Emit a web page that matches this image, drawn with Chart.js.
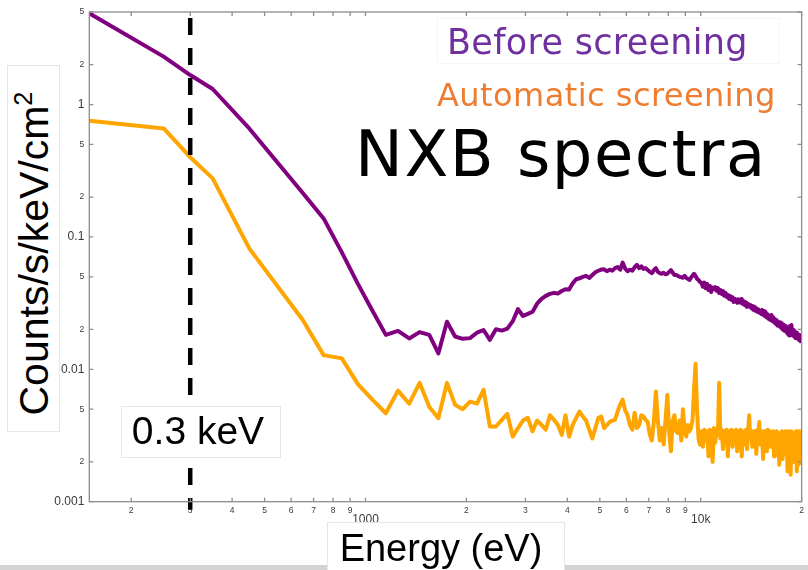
<!DOCTYPE html>
<html>
<head>
<meta charset="utf-8">
<title>NXB spectra</title>
<script src="https://cdn.jsdelivr.net/npm/chart.js@4.4.1/dist/chart.umd.min.js"></script>
<style>
  html, body { margin: 0; padding: 0; background: #fff; }
  #wrap { position: relative; width: 808px; height: 570px; overflow: hidden; }
  #nxbChart { position: absolute; left: 0; top: 0; }
  .box { position: absolute; background: #fff; border: 1px solid #e6e6e6; box-sizing: border-box; }
  .txt { position: absolute; white-space: nowrap; line-height: 1; }
  .sans { font-family: "Liberation Sans", Arial, sans-serif; }
  .wide { font-family: "DejaVu Sans", sans-serif; }
</style>
</head>
<body>
<div id="wrap">
  <canvas id="nxbChart" width="808" height="570"></canvas>

  <!-- bottom grey strip of the slide -->
  <div style="position:absolute;left:0;top:565px;width:808px;height:5px;background:#d4d4d4;"></div>

  <!-- legend style annotations -->
  <div class="box" style="left:437px;top:18px;width:343px;height:46px;border-color:#f5f5f5;"></div>
  <div class="txt wide" style="left:447px;top:25px;font-size:35px;letter-spacing:0.3px;color:#7030a0;">Before screening</div>
  <div class="txt wide" style="left:437px;top:79px;font-size:32px;letter-spacing:0.45px;color:#ed7d31;">Automatic screening</div>
  <div class="txt wide" style="left:355px;top:122px;font-size:64px;letter-spacing:1.5px;color:#000;">NXB spectra</div>

  <!-- y axis title -->
  <div class="box" style="left:7px;top:65px;width:53px;height:367px;"></div>
  <div class="txt sans" style="left:-136px;top:233px;width:340px;height:41px;font-size:41px;text-align:center;transform:rotate(-90deg);">Counts/s/keV/cm<sup style="font-size:0.62em;vertical-align:0.62em;line-height:0;">2</sup></div>

  <!-- 0.3 keV marker label -->
  <div class="box" style="left:121px;top:406px;width:160px;height:52px;"></div>
  <div class="txt sans" style="left:108px;top:411px;width:180px;font-size:39px;text-align:center;">0.3 keV</div>

  <!-- x axis title -->
  <div class="box" style="left:327px;top:522px;width:238px;height:60px;"></div>
  <div class="txt sans" style="left:321px;top:529px;width:240px;font-size:38px;text-align:center;">Energy (eV)</div>
</div>

<script>
// energy bins (eV)
const energies = [
    150, 250, 300, 350, 450, 650, 750, 850, 950,
    1050, 1150, 1250, 1350, 1450, 1550, 1650, 1750, 1850, 1950,
    2050, 2150, 2250, 2350, 2450, 2550, 2650, 2750, 2850, 2950,
    3050, 3150, 3250, 3350, 3450, 3550, 3650, 3750, 3850, 3950,
    4050, 4150, 4250, 4350, 4450, 4550, 4650, 4750, 4850, 4950,
    5050, 5150, 5250, 5350, 5450, 5550, 5650, 5750, 5850, 5950,
    6050, 6150, 6250, 6350, 6450, 6550, 6650, 6750, 6850, 6950,
    7050, 7150, 7250, 7350, 7450, 7550, 7650, 7750, 7850, 7950,
    8050, 8150, 8250, 8350, 8450, 8550, 8650, 8750, 8850, 8950,
    9050, 9150, 9250, 9350, 9450, 9550, 9650, 9750, 9850, 9950,
    10050, 10150, 10250, 10350, 10450, 10550, 10650, 10750, 10850, 10950,
    11050, 11150, 11250, 11350, 11450, 11550, 11650, 11750, 11850, 11950,
    12050, 12150, 12250, 12350, 12450, 12550, 12650, 12750, 12850, 12950,
    13050, 13150, 13250, 13350, 13450, 13550, 13650, 13750, 13850, 13950,
    14050, 14150, 14250, 14350, 14450, 14550, 14650, 14750, 14850, 14950,
    15050, 15150, 15250, 15350, 15450, 15550, 15650, 15750, 15850, 15950,
    16050, 16150, 16250, 16350, 16450, 16550, 16650, 16750, 16850, 16950,
    17050, 17150, 17250, 17350, 17450, 17550, 17650, 17750, 17850, 17950,
    18050, 18150, 18250, 18350, 18450, 18550, 18650, 18750, 18850, 18950,
    19050, 19150, 19250, 19350, 19450, 19550, 19650, 19750, 19850, 19950
];

// counts/s/keV/cm2, before screening (purple)
const beforeScreening = [
    4.89, 2.30, 1.67, 1.31, 0.66, 0.215, 0.138, 0.0765, 0.044,
    0.0276, 0.0182, 0.0195, 0.0171, 0.0191, 0.0182, 0.0132, 0.0229, 0.0177, 0.0170,
    0.0172, 0.0189, 0.0198, 0.0167, 0.0201, 0.0196, 0.0203, 0.0231, 0.0285, 0.0253,
    0.0262, 0.0272, 0.0313, 0.0340, 0.0359, 0.0371, 0.0378, 0.0374, 0.0390, 0.0403,
    0.0401, 0.0446, 0.0479, 0.0487, 0.0499, 0.0508, 0.0490, 0.0516, 0.0541, 0.0555,
    0.0567, 0.0569, 0.0551, 0.0565, 0.0556, 0.0581, 0.0593, 0.0565, 0.0640, 0.0577,
    0.0551, 0.0565, 0.0556, 0.0590, 0.0614, 0.0581, 0.0599, 0.0573, 0.0581, 0.0562,
    0.0545, 0.0533, 0.0562, 0.0581, 0.0545, 0.0533, 0.0527, 0.0536, 0.0522, 0.0527,
    0.0545, 0.0562, 0.0536, 0.0516, 0.0516, 0.0508, 0.0499, 0.0497, 0.0491, 0.0508,
    0.0491, 0.0482, 0.0473, 0.0491, 0.0508, 0.0527, 0.0508, 0.0482, 0.0473, 0.0457,
    0.0449, 0.0420, 0.0452, 0.0410, 0.0441, 0.0397, 0.0426, 0.0384, 0.0415, 0.0405,
    0.0418, 0.0392, 0.0411, 0.0378, 0.0397, 0.0371, 0.0390, 0.0360, 0.0378, 0.0352,
    0.0365, 0.0340, 0.0358, 0.0334, 0.0350, 0.0323, 0.0340, 0.0330, 0.0318, 0.0338,
    0.0334, 0.0318, 0.0340, 0.0312, 0.0326, 0.0305, 0.0320, 0.0296, 0.0312, 0.0298,
    0.0306, 0.0290, 0.0301, 0.0282, 0.0298, 0.0277, 0.0290, 0.0272, 0.0284, 0.0268,
    0.0276, 0.0262, 0.0281, 0.0258, 0.0275, 0.0252, 0.0268, 0.0246, 0.0260, 0.0240,
    0.0252, 0.0236, 0.0257, 0.0232, 0.0248, 0.0226, 0.0240, 0.0220, 0.0235, 0.0214,
    0.0228, 0.0212, 0.0226, 0.0206, 0.0222, 0.0200, 0.0218, 0.0196, 0.0212, 0.0193,
    0.0205, 0.0186, 0.0200, 0.0180, 0.0212, 0.0188, 0.0216, 0.0182, 0.0198, 0.0178,
    0.0194, 0.0172, 0.0190, 0.0176, 0.0186, 0.0168, 0.0182, 0.0165, 0.0170, 0.0158
];

// counts/s/keV/cm2, automatic screening (orange)
const automaticScreening = [
    0.755, 0.66, 0.40, 0.277, 0.082, 0.0236, 0.0128, 0.0121, 0.0077,
    0.00587, 0.00466, 0.0069, 0.0055, 0.0079, 0.0052, 0.00427, 0.0079, 0.0054, 0.0050,
    0.0057, 0.0055, 0.0070, 0.0037, 0.0037, 0.00415, 0.0046, 0.0031, 0.0036, 0.0041,
    0.0043, 0.0034, 0.0041, 0.0038, 0.0035, 0.0045, 0.00415, 0.0038, 0.0032, 0.0045,
    0.0031, 0.0038, 0.0043, 0.0048, 0.0044, 0.0041, 0.0035, 0.0030, 0.0036, 0.0043,
    0.0044, 0.0036, 0.0038, 0.0040, 0.0041, 0.00415, 0.0048, 0.0054, 0.0059, 0.0049,
    0.0045, 0.0038, 0.0035, 0.0047, 0.0036, 0.0038, 0.0045, 0.0044, 0.00415, 0.0040,
    0.0032, 0.0029, 0.0041, 0.0068, 0.0041, 0.0029, 0.0036, 0.0027, 0.0041, 0.0064,
    0.0034, 0.0024, 0.0041, 0.0045, 0.0034, 0.0033, 0.0041, 0.0029, 0.0050, 0.0035,
    0.0031, 0.0038, 0.0034, 0.0036, 0.0041, 0.0070, 0.0110, 0.0049, 0.0030, 0.0027,
    0.0034, 0.0026, 0.0035, 0.0029, 0.0034, 0.0022, 0.0035, 0.0030, 0.0020, 0.0036,
    0.0028, 0.0034, 0.0032, 0.0079, 0.0030, 0.0035, 0.0025, 0.0034, 0.0028, 0.0035,
    0.0022, 0.0034, 0.0031, 0.0035, 0.0026, 0.0034, 0.0030, 0.0035, 0.0024, 0.0034,
    0.0029, 0.0035, 0.0022, 0.0033, 0.0034, 0.0027, 0.0035, 0.0025, 0.0034, 0.0045,
    0.0030, 0.0034, 0.0026, 0.0034, 0.0031, 0.0034, 0.0023, 0.0035, 0.0029, 0.0040,
    0.0027, 0.0034, 0.0032, 0.0021, 0.0034, 0.0030, 0.0034, 0.0024, 0.0035, 0.0028,
    0.0034, 0.0026, 0.0033, 0.0031, 0.0034, 0.0022, 0.0033, 0.0029, 0.0034, 0.0025,
    0.0033, 0.0019, 0.0032, 0.0028, 0.0034, 0.0021, 0.0033, 0.0030, 0.0034, 0.0023,
    0.0033, 0.0017, 0.0034, 0.0026, 0.0033, 0.0016, 0.0034, 0.0028, 0.0032, 0.0020,
    0.0033, 0.0024, 0.0034, 0.0017, 0.0030, 0.0019, 0.0034, 0.0021, 0.0026, 0.0019
];

// 0.3 keV marker (eV), drawn from top to just under the axis
const markerEnergy = [300, 300];
const markerCounts = [4.5, 0.00087];

// axis ticks and their labels
const xTicks = [200, 300, 400, 500, 600, 700, 800, 900, 1000,
    2000, 3000, 4000, 5000, 6000, 7000, 8000, 9000, 10000, 20000];
const xTickLabels = ['2', '3', '4', '5', '6', '7', '8', '9', '1000',
    '2', '3', '4', '5', '6', '7', '8', '9', '10k', '2'];
const yTicks = [0.001, 0.002, 0.005, 0.01, 0.02, 0.05, 0.1, 0.2, 0.5, 1, 2, 5];
const yTickLabels = ['0.001', '2', '5', '0.01', '2', '5', '0.1', '2', '5', '1', '2', '5'];

const xMajor = [1000, 10000];
const yMajor = [0.001, 0.01, 0.1, 1];

// frame around the plot with tick marks pointing inwards
const frameTicks = {
    id: 'frameTicks',
    afterDatasetsDraw(chart) {
        const { ctx, chartArea: a, scales } = chart;
        ctx.save();
        ctx.strokeStyle = '#8c8c8c';
        ctx.lineWidth = 1.3;
        ctx.strokeRect(a.left, a.top, a.right - a.left, a.bottom - a.top);
        ctx.beginPath();
        xTicks.forEach((v) => {
            const px = scales.x.getPixelForValue(v);
            ctx.moveTo(px, a.bottom); ctx.lineTo(px, a.bottom - 4);
            ctx.moveTo(px, a.top); ctx.lineTo(px, a.top + 4);
        });
        yTicks.forEach((v) => {
            const py = scales.y.getPixelForValue(v);
            ctx.moveTo(a.left, py); ctx.lineTo(a.left + 4, py);
            ctx.moveTo(a.right, py); ctx.lineTo(a.right - 4, py);
        });
        ctx.stroke();
        ctx.restore();
    }
};

const toPoints = (xs, ys) => xs.map((x, i) => ({ x: x, y: ys[i] }));

const ctx = document.getElementById('nxbChart').getContext('2d');
new Chart(ctx, {
    type: 'line',
    data: {
        datasets: [
            {
                label: '0.3 keV',
                data: toPoints(markerEnergy, markerCounts),
                borderColor: '#000',
                borderWidth: 4.5,
                borderDash: [17, 13],
                pointRadius: 0,
                clip: false
            },
            {
                label: 'Before screening',
                data: toPoints(energies, beforeScreening),
                borderColor: '#800080',
                borderWidth: 4,
                pointRadius: 0,
                borderJoinStyle: 'round'
            },
            {
                label: 'Automatic screening',
                data: toPoints(energies, automaticScreening),
                borderColor: '#ffa500',
                borderWidth: 4,
                pointRadius: 0,
                borderJoinStyle: 'round'
            }
        ]
    },
    options: {
        responsive: false,
        animation: false,
        devicePixelRatio: 1,
        layout: { padding: { top: 12, right: 2, left: 0, bottom: 0 } },
        plugins: {
            legend: { display: false },
            tooltip: { enabled: false }
        },
        elements: { line: { tension: 0 } },
        scales: {
            x: {
                type: 'logarithmic',
                min: 150,
                max: 20000,
                grid: { display: false, drawTicks: false },
                border: { display: false },
                afterBuildTicks: (scale) => { scale.ticks = xTicks.map((v) => ({ value: v })); },
                afterFit: (scale) => { scale.height = 68.3; },
                ticks: {
                    autoSkip: false,
                    maxRotation: 0,
                    padding: 4,
                    color: '#3a3a3a',
                    font: (c) => (c.tick && xMajor.includes(c.tick.value))
                        ? { family: 'Liberation Sans', size: 12, lineHeight: 0.75 }
                        : { family: 'Liberation Sans', size: 8.5 },
                    callback: (value, index) => xMajor.includes(value)
                        ? ['', xTickLabels[index]] : xTickLabels[index]
                }
            },
            y: {
                type: 'logarithmic',
                min: 0.001,
                max: 5,
                grid: { display: false, drawTicks: false },
                border: { display: false },
                afterBuildTicks: (scale) => { scale.ticks = yTicks.map((v) => ({ value: v })); },
                afterFit: (scale) => { scale.width = 89.3; },
                ticks: {
                    padding: 5,
                    color: '#3a3a3a',
                    font: (c) => (c.tick && yMajor.includes(c.tick.value))
                        ? { family: 'Liberation Sans', size: 12 }
                        : { family: 'Liberation Sans', size: 8.5 },
                    callback: (value, index) => yTickLabels[index]
                }
            }
        }
    },
    plugins: [frameTicks]
});
</script>
</body>
</html>
